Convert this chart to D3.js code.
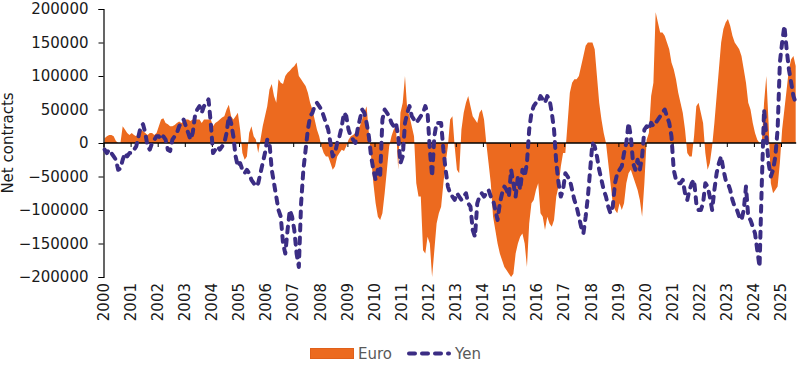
<!DOCTYPE html>
<html>
<head>
<meta charset="utf-8">
<script src="https://cdn.jsdelivr.net/npm/d3@7"></script>
<style>
  html, body { margin: 0; padding: 0; background: #fff; }
  svg { display: block; font-family: "DejaVu Sans", Verdana, sans-serif; }
</style>
</head>
<body>
<svg id="chart" width="800" height="367"></svg>
<script>
// Monthly net positions (thousands of contracts), Jan 2000 - Jul 2025
const startYear = 2000;

const euro = [
  7, 10, 12, 12, 10, 3, 0, 0, 25, 20, 15, 12,                 // 2000
  15, 12, 10, 15, 20, 18, 15, 12, 15, 15, 12, 15,             // 2001
  25, 35, 37, 30, 28, 25, 25, 27, 30, 32, 30, 32,             // 2002
  35, 35, 33, 35, 35, 35, 35, 30, 35, 35, 35, 35,             // 2003
  25, 30, 32, 35, 38, 40, 50, 57, 40, 35, 40, 45,             // 2004
  20, -15, -25, -20, 15, 25, 10, 5, -15, 5, 25, 40,           // 2005
  55, 80, 88, 70, 60, 95, 90, 88, 100, 105, 108, 112,         // 2006
  115, 120, 100, 95, 90, 85, 75, 60, 50, 35, 20, 10,          // 2007
  -5, -15, -20, -20, -30, -40, -35, -20, -15, -10, -12, -5,   // 2008
  5, 10, 12, 15, 20, 25, 35, 45, 55, 15, -20, -60,            // 2009
  -90, -110, -115, -105, -75, -40, -5, 10, 20, 25, -40, 45,   // 2010
  60, 100, 50, 40, 25, 10, -60, -80, -80, -160, -165, -140,   // 2011
  -150, -200, -160, -120, -105, -95, -60, -30, -5, 35, 40, -5, // 2012
  -40, -45, 20, 45, 60, 70, 55, 40, 35, 30, 45, 50,           // 2013
  35, 0, -30, -60, -110, -130, -150, -165, -175, -185, -190, -195, // 2014
  -200, -195, -165, -150, -140, -135, -150, -185, -120, -90, -85, -70, // 2015
  -60, -105, -110, -130, -110, -120, -125, -115, -80, -65, -35, -15,   // 2016
  -15, 30, 75, 90, 95, 95, 100, 115, 130, 145, 150, 150,      // 2017
  150, 140, 100, 60, 35, 15, 0, -30, -60, -90, -100, -105,    // 2018
  -90, -100, -90, -60, -45, -40, -50, -60, -70, -85, -110, -60, // 2019
  5, 15, 70, 90, 195, 180, 165, 165, 160, 150, 140, 120,      // 2020
  110, 95, 75, 60, 45, 20, -15, -20, -20, 10, 55, 60,         // 2021
  45, 30, -15, -40, -30, -5, 30, 70, 110, 150, 170, 180,      // 2022
  185, 175, 160, 150, 145, 140, 130, 110, 90, 60, 50, 30,     // 2023
  15, 5, 0, 0, 60, 100, 30, -60, -75, -70, -65, -30,          // 2024
  20, 50, 80, 110, 125, 130, 115                              // 2025
];

const yen = [
  -10, -15, -10, -15, -20, -25, -40, -38, -25, -15, -20, -15, // 2000
  -15, -10, -5, 10, 25, 28, 15, -5, -10, 0, 5, 10,            // 2001
  10, 5, 10, 5, -10, -12, 5, 10, 15, 25, 30, 35,              // 2002
  25, 15, 5, 15, 40, 50, 55, 45, 55, 60, 65, 30,              // 2003
  -15, -10, -5, -10, -5, 0, 15, 40, 30, 10, -20, -35,         // 2004
  -30, -40, -45, -40, -45, -55, -60, -65, -60, -45, -30, -15, // 2005
  5, 0, -40, -60, -80, -100, -110, -150, -165, -130, -100, -110, // 2006
  -130, -165, -185, -90, -40, -10, 20, 40, 45, 55, 60, 55,    // 2007
  50, 40, 30, 20, 0, -20, -15, 0, 10, 25, 45, 40,             // 2008
  20, 10, 5, 0, 20, 35, 50, 45, 30, 10, -20, -40,             // 2009
  -55, -40, -50, 35, 50, 45, 40, 30, 25, 30, 10, -30,         // 2010
  -20, 30, 45, 55, 40, 35, 30, 35, 40, 45, 55, 45,            // 2011
  -10, -50, 10, 30, 30, 30, -10, -40, -65, -75, -80, -85,     // 2012
  -75, -80, -85, -80, -75, -90, -95, -130, -140, -90, -80, -75, // 2013
  -80, -75, -70, -80, -85, -100, -115, -90, -75, -65, -70, -80, // 2014
  -40, -60, -80, -50, -70, -40, -50, -30, 20, 45, 55, 60,     // 2015
  60, 70, 65, 60, 70, 65, 45, 20, -30, -60, -80, -70,         // 2016
  -45, -50, -55, -70, -85, -95, -110, -125, -135, -110, -80, -40, // 2017
  0, -5, -20, -40, -55, -70, -80, -95, -105, -95, -60, -45,   // 2018
  -40, -35, -15, 0, 30, 10, -30, -40, -25, -40, -20, 20,      // 2019
  25, 20, 30, 25, 30, 35, 40, 45, 50, 40, 30, 10,             // 2020
  -40, -55, -60, -60, -55, -75, -85, -70, -60, -55, -90, -100, // 2021
  -100, -90, -60, -65, -80, -100, -70, -45, -30, -20, -40, -55, // 2022
  -60, -70, -85, -95, -100, -110, -115, -100, -65, -110, -115, -125, // 2023
  -135, -160, -185, -60, 50, 10, -30, -50, -40, -20, 20, 120, // 2024
  150, 175, 140, 110, 90, 70, 60                              // 2025
];

const yearLabels = ['2000', '2001', '2002', '2003', '2004', '2005', '2006', '2007', '2008',
  '2009', '2010', '2011', '2012', '2013', '2014', '2015', '2016', '2017', '2018', '2019',
  '2020', '2021', '2022', '2023', '2024', '2025'];
const yTicks = [-200000, -150000, -100000, -50000, 0, 50000, 100000, 150000, 200000];
const seriesNames = ['Euro', 'Yen'];

const ORANGE = '#ec6a1f';
const PURPLE = '#3b2d84';
const TEXT = '#1a1a1a';

const svg = d3.select('#chart');

const x = d3.scaleLinear().domain([2000, 2025]).range([103.5, 781]);
const y = d3.scaleLinear().domain([-200000, 200000]).range([277, 9]);

const t = i => startYear + (i + 0.5) / 12;

// Euro area
const area = d3.area()
  .x((d, i) => x(t(i)))
  .y0(y(0))
  .y1(d => y(d * 1000));

svg.append('path')
  .datum(euro)
  .attr('fill', ORANGE)
  .attr('d', area);

// Y axis
const yAxis = svg.append('g')
  .attr('transform', `translate(${x(2000)},0)`)
  .call(d3.axisLeft(y).tickValues(yTicks).tickSize(5).tickPadding(10).tickFormat(d3.format('d')));
yAxis.select('.domain').attr('stroke', '#000').attr('stroke-width', 1.2);
yAxis.selectAll('.tick line').attr('stroke', '#000');
yAxis.selectAll('text')
  .attr('font-size', 15)
  .attr('fill', TEXT)
  .attr('font-family', '"DejaVu Sans", Verdana, sans-serif');

// X axis on the zero line
const xAxis = svg.append('g')
  .attr('transform', `translate(0,${y(0)})`)
  .call(d3.axisBottom(x).tickValues(yearLabels.map(Number)).tickSize(4).tickFormat(''));
xAxis.select('.domain').attr('d', `M${x(2000)},0H${x(2025.56)}`).attr('stroke', '#000').attr('stroke-width', 1.5);
xAxis.selectAll('.tick line').attr('stroke', '#000');

// Year labels at bottom
svg.append('g')
  .selectAll('text')
  .data(yearLabels)
  .join('text')
  .attr('transform', d => `translate(${x(+d)},283) rotate(-90)`)
  .attr('text-anchor', 'end')
  .attr('dy', '0.35em')
  .attr('font-size', 15)
  .attr('fill', TEXT)
  .text(d => d);

// Yen line
const line = d3.line()
  .x((d, i) => x(t(i)))
  .y(d => y(d * 1000));

svg.append('path')
  .datum(yen)
  .attr('fill', 'none')
  .attr('stroke', PURPLE)
  .attr('stroke-width', 4)
  .attr('stroke-dasharray', '6,7')
  .attr('stroke-linecap', 'round')
  .attr('stroke-linejoin', 'round')
  .attr('d', line);

// Y axis title
svg.append('text')
  .attr('transform', 'translate(13,143) rotate(-90)')
  .attr('text-anchor', 'middle')
  .attr('font-size', 15)
  .attr('fill', TEXT)
  .text('Net contracts');

// Legend
const legend = svg.append('g');
legend.append('rect')
  .attr('x', 310.5).attr('y', 348.5)
  .attr('width', 43).attr('height', 10)
  .attr('fill', ORANGE)
  .attr('stroke', '#e0601a');
legend.append('text')
  .attr('x', 358).attr('y', 359)
  .attr('font-size', 15)
  .attr('fill', '#595959')
  .text(seriesNames[0]);
legend.append('line')
  .attr('x1', 409).attr('x2', 449)
  .attr('y1', 353.5).attr('y2', 353.5)
  .attr('stroke', PURPLE)
  .attr('stroke-width', 4)
  .attr('stroke-dasharray', '6,7')
  .attr('stroke-linecap', 'round');
legend.append('text')
  .attr('x', 455).attr('y', 359)
  .attr('font-size', 15)
  .attr('fill', '#595959')
  .text(seriesNames[1]);
</script>
</body>
</html>
